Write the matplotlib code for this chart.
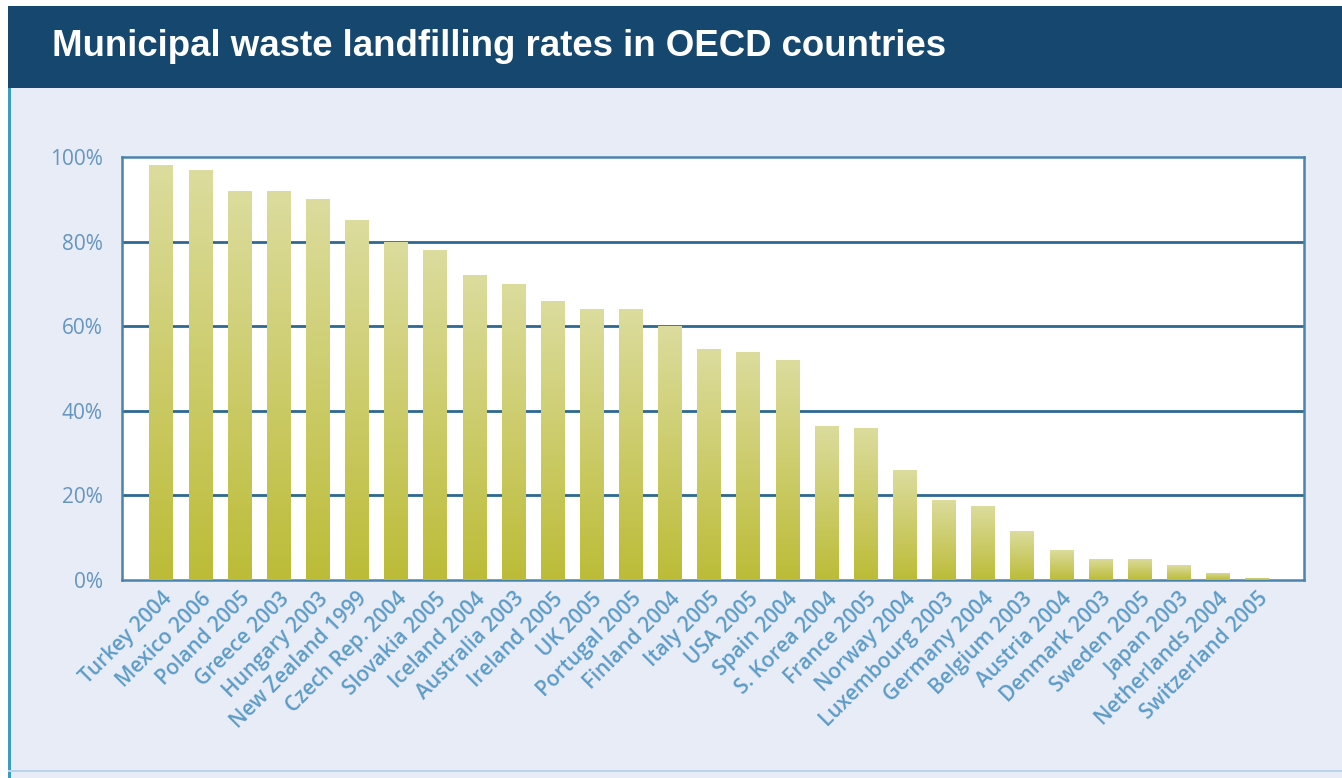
import matplotlib
matplotlib.use("Agg")
import matplotlib.pyplot as plt
import numpy as np
from matplotlib.colors import LinearSegmentedColormap
from matplotlib.patches import Rectangle

countries = ["Turkey 2004", "Mexico 2006", "Poland 2005", "Greece 2003", "Hungary 2003",
             "New Zealand 1999", "Czech Rep. 2004", "Slovakia 2005", "Iceland 2004",
             "Australia 2003", "Ireland 2005", "UK 2005", "Portugal 2005", "Finland 2004",
             "Italy 2005", "USA 2005", "Spain 2004", "S. Korea 2004", "France 2005",
             "Norway 2004", "Luxembourg 2003", "Germany 2004", "Belgium 2003",
             "Austria 2004", "Denmark 2003", "Sweden 2005", "Japan 2003",
             "Netherlands 2004", "Switzerland 2005"]
rates = [98, 97, 92, 92, 90, 85, 80, 78, 72, 70, 66, 64, 64, 60, 54.5, 54, 52,
         36.5, 36, 26, 19, 17.5, 11.5, 7, 5, 5, 3.5, 1.7, 0.5]
yticks = [0, 20, 40, 60, 80, 100]
ytick_labels = ["0%", "20%", "40%", "60%", "80%", "100%"]
title = "Municipal waste landfilling rates in OECD countries"

W, H = 1342, 778
fig = plt.figure(figsize=(W / 100, H / 100), dpi=100)
fig.patch.set_facecolor("#e7ecf6")

# title banner
fig.add_artist(Rectangle((8 / W, 1 - 88 / H), 1 - 8 / W, 82 / H, transform=fig.transFigure,
                         facecolor="#16486f", edgecolor="none", zorder=0))
fig.add_artist(Rectangle((0, 1 - 6 / H), 1, 6 / H, transform=fig.transFigure,
                         facecolor="white", edgecolor="none", zorder=0))
fig.add_artist(Rectangle((0, 0), 8 / W, 1, transform=fig.transFigure,
                         facecolor="white", edgecolor="none", zorder=0))
# left accent line
fig.add_artist(Rectangle((8 / W, 0), 3 / W, 1 - 88 / H, transform=fig.transFigure,
                         facecolor="#3a9cc2", edgecolor="none", zorder=1))
# bottom line
fig.add_artist(Rectangle((8 / W, 6 / H), 1 - 8 / W, 2 / H, transform=fig.transFigure,
                         facecolor="#b9d3ea", edgecolor="none", zorder=1))
fig.text(52 / W, 1 - 46 / H, title, color="white", fontsize=26.4, fontweight="bold",
         family="Liberation Sans", va="center", ha="left")

ax = fig.add_axes([122 / W, 1 - 580 / H, (1304 - 122) / W, (580 - 157) / H])
ax.set_facecolor("white")

x = np.arange(len(countries))
bars = ax.bar(x, rates, width=0.6, color="#c9c96a", zorder=3)

cmap = LinearSegmentedColormap.from_list("g", ["#bcbc38", "#dcdc9e"])
grad = np.linspace(0, 1, 256).reshape(-1, 1)
for b in bars:
    x0, w, h = b.get_x(), b.get_width(), b.get_height()
    im = ax.imshow(grad, extent=[x0, x0 + w, 0, h], origin="lower", aspect="auto",
                   cmap=cmap, zorder=4)
    im.set_clip_path(b)

ax.set_xlim(-1.0, 29.2)
ax.set_ylim(0, 100)
ax.set_aspect("auto")

for yv in yticks[1:-1]:
    ax.axhline(yv, color="#2e6892", lw=2, zorder=1)

for s in ax.spines.values():
    s.set_color("#4a84ad")
    s.set_linewidth(1.8)

ax.set_yticks(yticks)
ax.set_yticklabels(ytick_labels, family="Open Sans", fontsize=15, color="#6595c0")
ax.set_xticks(x)
ax.set_xticklabels(countries, rotation=45, ha="right", va="top", rotation_mode="anchor",
                   family="Open Sans", fontsize=15, fontweight="semibold", color="#5d9cc8")
ax.tick_params(axis="both", length=0)
ax.tick_params(axis="y", pad=14)
ax.tick_params(axis="x", pad=6)

fig.savefig("out.png", dpi=100, facecolor=fig.get_facecolor())
